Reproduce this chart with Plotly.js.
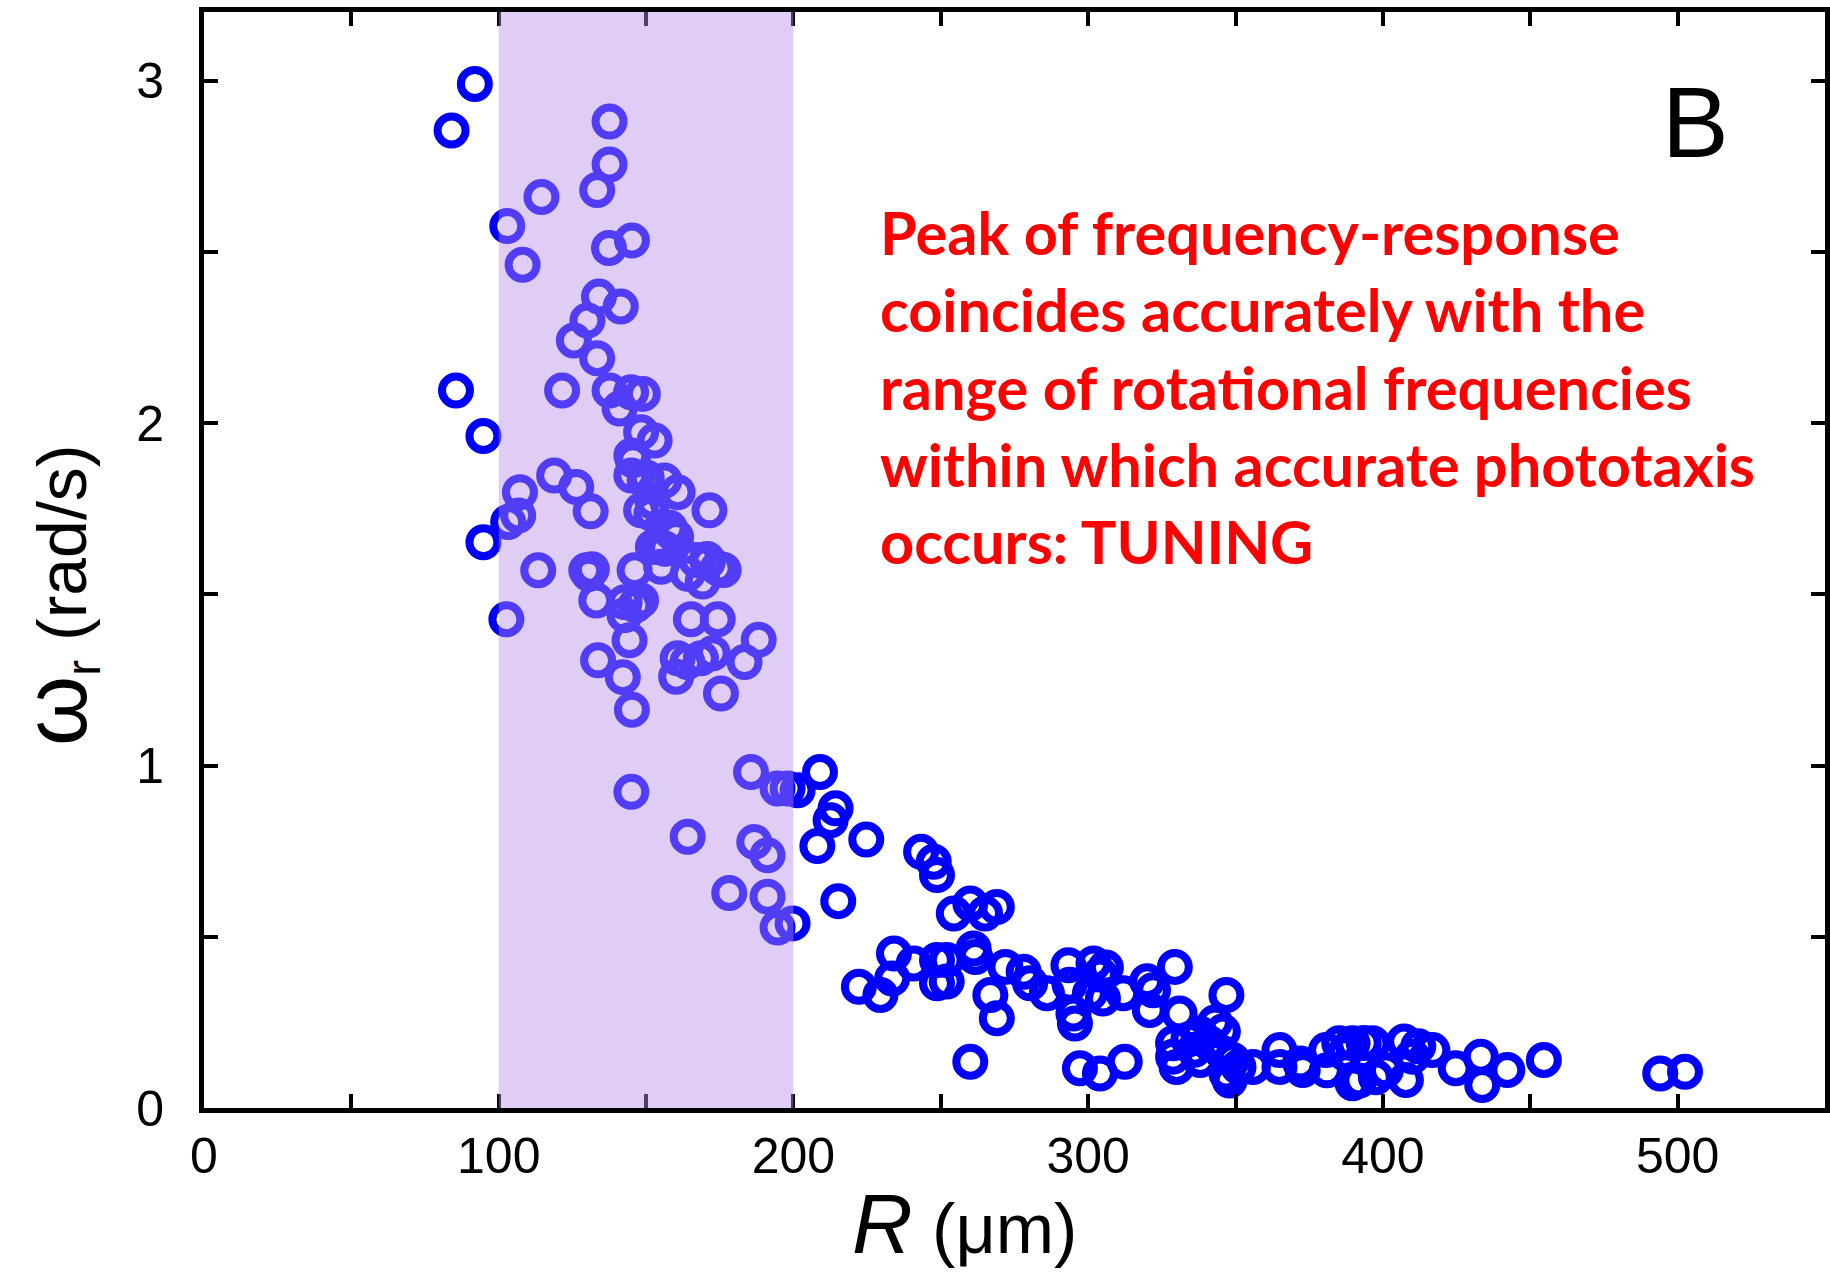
<!DOCTYPE html>
<html>
<head>
<meta charset="utf-8">
<script src="https://cdn.plot.ly/plotly-3.0.1.min.js"></script>
<style>html,body{margin:0;padding:0;background:#fff;}#chart{width:1830px;height:1276px;}</style>
</head>
<body>
<div id="chart"></div>
<script>
// Radius R (µm) of each colony
const radiusUm = [
  91.9, 84.0, 85.5, 94.8, 94.8,
  137.6, 137.6, 133.4, 114.5, 102.9, 108.1, 137.4, 145.2, 134.0, 141.4, 130.1, 125.5, 133.4, 121.5, 137.6, 141.0, 144.9, 148.9, 148.3, 152.9, 145.0,
  145.5, 118.8, 126.3, 107.2, 106.6, 103.2, 131.2, 145.0, 149.5, 156.2, 160.7, 148.3, 171.5, 158.5, 152.3, 160.2, 113.4, 129.7, 130.5, 146.1, 155.1, 164.1, 170.9, 174.3,
  133.1, 142.7, 148.3, 142.7, 102.6, 165.2, 174.3, 144.4, 133.7, 160.7, 168.6, 172.6, 160.2, 142.1, 175.4, 145.2, 145.0, 164.1,
  150.2, 152.2, 151.8, 158.0, 154.1, 156.4, 167.0, 170.7, 169.2, 188.2, 183.4, 176.3, 164.0, 146.4, 131.6,
  185.6, 194.6, 198.0, 186.7, 191.2, 178.2, 191.2, 194.6, 199.7,
  201.4, 209.0, 214.3, 212.6, 208.1, 224.7, 243.3, 247.6, 248.7, 215.2, 254.4, 260.0, 265.0, 269.0,
  234.1, 240.8, 248.7, 252.0, 261.1, 261.7, 222.2, 229.5, 233.5, 248.7, 252.0, 266.8, 269.0, 271.9, 278.1, 280.3, 286.0,
  293.3, 301.8, 293.7, 295.0, 295.5, 300.6, 305.0, 304.0, 306.0, 311.9, 320.9, 322.0, 320.0, 329.4, 331.0, 346.9,
  260.0, 297.2, 304.0, 312.4, 328.8, 328.8, 330.0, 337.8, 338.0, 345.7, 345.7, 346.9, 348.0, 355.9, 364.9, 364.9, 372.0,
  372.8, 380.7, 381.0, 385.2, 389.7, 389.7, 393.5, 396.5, 397.6, 407.2, 407.8, 412.0, 416.8, 424.7, 433.2, 433.7, 442.2, 454.6, 494.1, 502.5,
  334.0, 341.0, 349.0, 336.0, 351.0, 343.0, 410.0, 387.0, 392.0, 401.0
];
// Rotational frequency omega_r (rad/s)
const omegaR = [
  2.99, 2.854, 2.095, 1.962, 1.652,
  2.88, 2.755, 2.68, 2.66, 2.575, 2.462, 2.511, 2.533, 2.369, 2.34, 2.299, 2.241, 2.189, 2.095, 2.095, 2.042, 2.09, 2.085, 1.973, 1.949, 1.905,
  1.891, 1.847, 1.813, 1.798, 1.73, 1.711, 1.742, 1.847, 1.832, 1.832, 1.798, 1.745, 1.745, 1.682, 1.638, 1.667, 1.57, 1.57, 1.56, 1.57, 1.58, 1.56, 1.594, 1.576,
  1.482, 1.477, 1.482, 1.439, 1.427, 1.427, 1.427, 1.366, 1.307, 1.313, 1.313, 1.328, 1.259, 1.258, 1.21, 1.163, 0.923, 0.792,
  1.84, 1.77, 1.736, 1.694, 1.643, 1.633, 1.6, 1.603, 1.537, 1.367, 1.302, 1.571, 1.302, 1.468, 1.573,
  0.981, 0.933, 0.933, 0.777, 0.738, 0.628, 0.617, 0.527, 0.539,
  0.928, 0.981, 0.875, 0.84, 0.765, 0.784, 0.748, 0.719, 0.68, 0.604, 0.568, 0.597, 0.568, 0.587,
  0.451, 0.422, 0.432, 0.432, 0.466, 0.441, 0.354, 0.33, 0.378, 0.364, 0.369, 0.33, 0.262, 0.412, 0.398, 0.364, 0.335,
  0.417, 0.422, 0.36, 0.276, 0.247, 0.335, 0.32, 0.39, 0.41, 0.335, 0.286, 0.344, 0.37, 0.412, 0.276, 0.33,
  0.135, 0.116, 0.101, 0.135, 0.189, 0.15, 0.12, 0.218, 0.14, 0.223, 0.16, 0.101, 0.08, 0.12, 0.169, 0.12, 0.13,
  0.111, 0.169, 0.11, 0.189, 0.189, 0.072, 0.19, 0.189, 0.09, 0.194, 0.082, 0.18, 0.169, 0.116, 0.15, 0.067, 0.111, 0.14, 0.101, 0.106,
  0.2, 0.19, 0.14, 0.17, 0.12, 0.25, 0.15, 0.16, 0.08, 0.11
];
const xTickVals = [0, 100, 200, 300, 400, 500];
const xTickText = ["0", "100", "200", "300", "400", "500"];
const xMinorVals = [50, 150, 250, 350, 450, 550];
const yTickVals = [0, 1, 2, 3];
const yTickText = ["0", "1", "2", "3"];
const yMinorVals = [0.5, 1.5, 2.5];
const tuningBand = [100, 200];
const panelLabel = "B";
const noteLines = [
  "Peak of frequency-response",
  "coincides accurately with the",
  "range of rotational frequencies",
  "within which accurate phototaxis",
  "occurs: TUNING"
];

const axisCommon = {
  showgrid: false, zeroline: false, showline: true, linecolor: "#000", linewidth: 5,
  mirror: "ticks", ticks: "inside", ticklen: 14, tickwidth: 4, tickcolor: "#000",
  tickmode: "array", tickfont: {family: "Liberation Sans, Arial, sans-serif", size: 50, color: "#000"}
};

const trace = {
  type: "scatter", mode: "markers", x: radiusUm, y: omegaR,
  marker: {symbol: "circle-open", size: 28, color: "#0000ff", line: {width: 8, color: "#0000ff"}},
  hoverinfo: "x+y", showlegend: false
};

const layout = {
  width: 1830, height: 1276,
  margin: {l: 204, r: 5, t: 12, b: 168},
  paper_bgcolor: "#fff", plot_bgcolor: "#fff",
  xaxis: Object.assign({}, axisCommon, {
    range: [0, 550], tickvals: xTickVals, ticktext: xTickText,
    minor: {tickmode: "array", tickvals: xMinorVals, ticks: "inside", ticklen: 14, tickwidth: 4, tickcolor: "#000", showgrid: false}
  }),
  yaxis: Object.assign({}, axisCommon, {
    range: [0, 3.2], tickvals: yTickVals, ticktext: yTickText, ticklabelstandoff: 25,
    minor: {tickmode: "array", tickvals: yMinorVals, ticks: "inside", ticklen: 14, tickwidth: 4, tickcolor: "#000", showgrid: false}
  }),
  shapes: [{
    type: "rect", xref: "x", yref: "paper", x0: tuningBand[0], x1: tuningBand[1], y0: 0, y1: 1,
    fillcolor: "rgba(184,140,232,0.435)", line: {width: 0}, layer: "above"
  }],
  annotations: [
    {xref: "paper", yref: "paper", x: 0.92, y: 0.9, xanchor: "center", yanchor: "middle",
     text: panelLabel, showarrow: false, font: {family: "Liberation Sans, Arial, sans-serif", size: 100, color: "#000"}},
    {xref: "paper", yref: "paper", x: 0.416, y: 0.658, xanchor: "left", yanchor: "middle", align: "left",
     text: noteLines.join("<br>"), showarrow: false,
     font: {family: "Lato, sans-serif", size: 59.5, color: "#ff0000", weight: "bold"}},
    {xref: "paper", yref: "paper", x: 0.469, y: -0.106, xanchor: "center", yanchor: "middle",
     text: '<i><span style="font-size:84px">R</span></i> (μm)', showarrow: false,
     font: {family: "Liberation Sans, Arial, sans-serif", size: 70, color: "#000"}},
    {xref: "paper", yref: "paper", x: -0.0907, y: 0.468, xanchor: "center", yanchor: "middle", textangle: -90,
     text: '<span style="font-size:90px">ω</span><sub>r</sub> (rad/s)', showarrow: false,
     font: {family: "Liberation Sans, Arial, sans-serif", size: 68, color: "#000"}}
  ]
};

Plotly.newPlot("chart", [trace], layout, {displayModeBar: false, staticPlot: true});
</script>
</body>
</html>
